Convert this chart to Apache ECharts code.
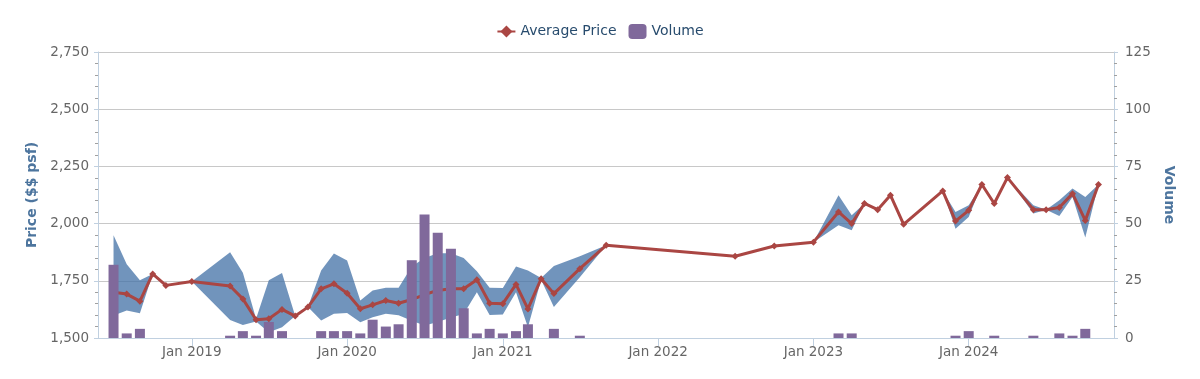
<!DOCTYPE html>
<html>
<head>
<meta charset="utf-8">
<script src="https://cdn.jsdelivr.net/npm/echarts@6/dist/echarts.min.js"></script>
<style>
  html, body { margin: 0; padding: 0; background: #fff; }
  #chart { width: 1200px; height: 379px; }
</style>
</head>
<body>
<div id="chart"></div>
<script>
// ---- data ----
const priceMonths = ['2018-07','2018-08','2018-09','2018-10','2018-11','2019-01','2019-04','2019-05','2019-06','2019-07','2019-08','2019-09','2019-10','2019-11','2019-12','2020-01','2020-02','2020-03','2020-04','2020-05','2020-06','2020-07','2020-08','2020-09','2020-10','2020-11','2020-12','2021-01','2021-02','2021-03','2021-04','2021-05','2021-07','2021-09','2022-07','2022-10','2023-01','2023-03','2023-04','2023-05','2023-06','2023-07','2023-08','2023-11','2023-12','2024-01','2024-02','2024-03','2024-04','2024-06','2024-07','2024-08','2024-09','2024-10','2024-11'];
const avgPrice    = [1700,1692,1661,1780,1730,1747,1727,1671,1580,1584,1625,1596,1635,1715,1737,1696,1628,1645,1664,1652,1668,1690,1708,1715,1715,1755,1652,1650,1734,1627,1759,1694,1803,1905,1857,1902,1919,2051,2000,2088,2061,2124,1997,2143,2011,2058,2171,2088,2201,2061,2061,2070,2131,2014,2171];
const priceLow    = [1598,1620,1608,1780,1730,1747,1579,1557,1572,1525,1547,1596,1635,1577,1606,1609,1569,1591,1606,1599,1575,1555,1570,1590,1605,1700,1600,1603,1700,1547,1755,1635,1766,1905,1857,1902,1919,1993,1971,2088,2061,2124,1997,2143,1978,2029,2171,2088,2201,2044,2061,2033,2116,1939,2171];
const priceHigh   = [1949,1822,1752,1780,1730,1747,1875,1785,1584,1752,1784,1596,1635,1795,1869,1839,1664,1708,1720,1720,1813,1850,1870,1870,1850,1792,1720,1718,1812,1795,1762,1815,1857,1905,1857,1902,1919,2124,2036,2088,2061,2124,1997,2143,2051,2080,2171,2088,2201,2080,2061,2102,2153,2116,2171];

const volumeMonths = ['2018-07','2018-08','2018-09','2019-04','2019-05','2019-06','2019-07','2019-08','2019-11','2019-12','2020-01','2020-02','2020-03','2020-04','2020-05','2020-06','2020-07','2020-08','2020-09','2020-10','2020-11','2020-12','2021-01','2021-02','2021-03','2021-05','2021-07','2023-03','2023-04','2023-12','2024-01','2024-03','2024-06','2024-08','2024-09','2024-10'];
const volumes      = [32,2,4,1,3,1,7,3,3,3,3,2,8,5,6,34,54,46,39,13,2,4,2,3,6,4,1,2,2,1,3,1,1,2,1,4];

const yearTickMonths = ['2019-01','2020-01','2021-01','2022-01','2023-01','2024-01'];
const yearTickLabels = ['Jan 2019','Jan 2020','Jan 2021','Jan 2022','Jan 2023','Jan 2024'];

// ---- helpers ----
function toTime(m) {
  const p = m.split('-').map(Number);
  return Date.UTC(p[0], p[1] - 1, 1);
}
const DAY = 86400000;
const xs = priceMonths.map(toTime);
const avgData  = xs.map((t, i) => [t, avgPrice[i]]);
const bandData = xs.map((t, i) => [t, priceLow[i], priceHigh[i]]);
const volData  = volumeMonths.map((m, i) => [toTime(m), volumes[i]]);
const tickTimes = yearTickMonths.map(toTime);

const xMin = toTime(priceMonths[0]) - 36.5 * DAY;
const xMax = toTime(priceMonths[priceMonths.length - 1]) + 36.5 * DAY;

const FONT = 'DejaVu Sans';
const axisLineColor = '#C0D0E0';

const chart = echarts.init(document.getElementById('chart'), null, { renderer: 'canvas' });
chart.setOption({
  animation: false,
  textStyle: { fontFamily: FONT },
  legend: {
    top: 19,
    left: 'center',
    itemWidth: 18,
    itemHeight: 15,
    itemGap: 12,
    textStyle: { color: '#274b6d', fontSize: 14, fontFamily: FONT },
    data: [
      { name: 'Average Price' },
      { name: 'Volume', icon: 'roundRect' }
    ]
  },
  grid: { left: 98, right: 86, top: 52, bottom: 41, containLabel: false },
  xAxis: {
    type: 'value',
    min: xMin,
    max: xMax,
    axisLine: { show: true, onZero: false, lineStyle: { color: axisLineColor, width: 1 } },
    axisTick: { show: true, length: 8, lineStyle: { color: axisLineColor }, customValues: tickTimes },
    axisLabel: {
      customValues: tickTimes,
      color: '#666',
      fontSize: 13.5,
      fontFamily: FONT,
      margin: 7,
      formatter: function (v) {
        const i = tickTimes.indexOf(v);
        return i >= 0 ? yearTickLabels[i] : '';
      }
    },
    splitLine: { show: false }
  },
  yAxis: [
    {
      type: 'value',
      min: 1500, max: 2750, interval: 250,
      position: 'left',
      name: 'Price ($$ psf)',
      nameLocation: 'middle',
      nameRotate: 90,
      nameGap: 53,
      nameTextStyle: { color: '#4d759e', fontWeight: 'bold', fontSize: 14, fontFamily: FONT },
      axisLine: { show: true, lineStyle: { color: axisLineColor } },
      axisTick: { show: true, length: 4, lineStyle: { color: axisLineColor } },
      minorTick: { show: true, splitNumber: 5, length: 3, lineStyle: { color: '#A0A0A0' } },
      axisLabel: {
        color: '#666', fontSize: 13.5, fontFamily: FONT, margin: 9,
        formatter: function (v) { return v.toLocaleString('en-US'); }
      },
      splitLine: { show: true, lineStyle: { color: '#C8C8C8', width: 1 } }
    },
    {
      type: 'value',
      min: 0, max: 125, interval: 25,
      position: 'right',
      name: 'Volume',
      nameLocation: 'middle',
      nameRotate: -90,
      nameGap: 47,
      nameTextStyle: { color: '#4d759e', fontWeight: 'bold', fontSize: 14, fontFamily: FONT },
      axisLine: { show: true, lineStyle: { color: axisLineColor } },
      axisTick: { show: true, length: 4, lineStyle: { color: axisLineColor } },
      minorTick: { show: true, splitNumber: 5, length: 3, lineStyle: { color: '#A0A0A0' } },
      axisLabel: { color: '#666', fontSize: 13.5, fontFamily: FONT, margin: 11 },
      splitLine: { show: false }
    }
  ],
  series: [
    {
      name: 'Range',
      type: 'custom',
      data: bandData,
      silent: true,
      z: 1,
      renderItem: function (params, api) {
        if (params.dataIndex !== 0) return null;
        const top = bandData.map(d => api.coord([d[0], d[2]]));
        const bottom = bandData.slice().reverse().map(d => api.coord([d[0], d[1]]));
        return {
          type: 'polygon',
          shape: { points: top.concat(bottom) },
          style: { fill: '#4572A7', opacity: 0.76 }
        };
      },
      encode: { x: 0, y: [1, 2] }
    },
    {
      name: 'Average Price',
      type: 'line',
      data: avgData,
      color: '#AA4643',
      lineStyle: { width: 3, color: '#AA4643' },
      symbol: 'diamond',
      symbolSize: 7,
      showSymbol: true,
      itemStyle: { color: '#AA4643' },
      z: 3
    },
    {
      name: 'Volume',
      type: 'bar',
      yAxisIndex: 1,
      data: volData,
      barWidth: 10,
      itemStyle: { color: '#80699B' },
      z: 5
    }
  ]
});
</script>
</body>
</html>
